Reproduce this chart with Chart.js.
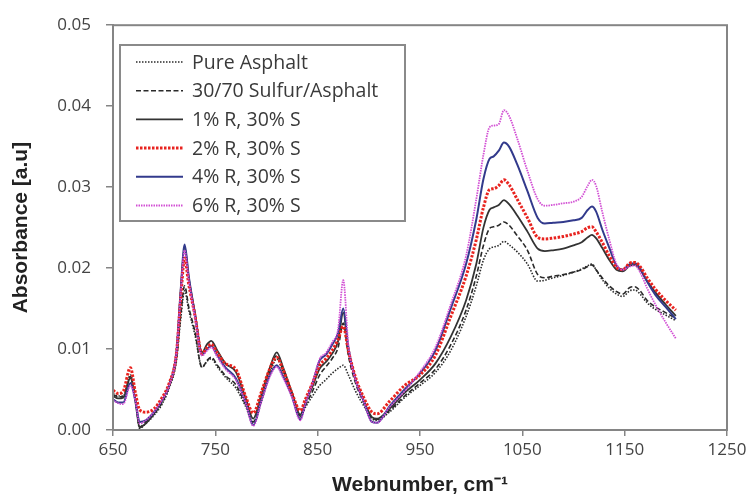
<!DOCTYPE html>
<html>
<head>
<meta charset="utf-8">
<script src="https://cdn.jsdelivr.net/npm/chart.js@4.4.1/dist/chart.umd.min.js"></script>
<style>
  html, body { margin: 0; padding: 0; background: #fff; }
  #wrap { width: 755px; height: 504px; }
</style>
</head>
<body>
<div id="wrap"><canvas id="chartFtir" width="755" height="504"></canvas></div>
<script>
// wavenumber sample positions (cm-1)
const wavenumbers = [
  650, 655, 660, 667, 672, 676, 682, 690, 698, 705,
  712, 716, 720, 724, 730, 737, 742, 746, 752, 760,
  770, 780, 787, 795, 803, 810, 816, 825, 833, 838,
  845, 852, 858, 864, 870, 875, 880, 887, 895, 903,
  908, 920, 935, 950, 965, 980, 995, 1005, 1012, 1018,
  1022, 1027, 1032, 1037, 1045, 1055, 1065, 1072, 1080, 1090,
  1100, 1108, 1114, 1118, 1122, 1128, 1135, 1142, 1148, 1155,
  1160, 1165, 1172, 1180, 1190, 1200,
];

const pureAsphalt = [
  0.0045, 0.0042, 0.0042, 0.0068, 0.0038, 0.0002, 0.0008, 0.0018, 0.0032, 0.0052,
  0.0085, 0.0135, 0.0172, 0.0148, 0.0118, 0.0078, 0.0085, 0.0088, 0.0078, 0.0065,
  0.0052, 0.0028, 0.0008, 0.0035, 0.0068, 0.0088, 0.0072, 0.0042, 0.0015, 0.0028,
  0.0042, 0.0055, 0.0062, 0.0070, 0.0076, 0.0080, 0.0068, 0.0048, 0.0030, 0.0014,
  0.0012, 0.0022, 0.0040, 0.0055, 0.0071, 0.0098, 0.0140, 0.0178, 0.0210, 0.0224,
  0.0226, 0.0228, 0.0233, 0.0229, 0.0220, 0.0205, 0.0184, 0.0185, 0.0188, 0.0191,
  0.0195, 0.0199, 0.0203, 0.0205, 0.0198, 0.0186, 0.0175, 0.0168, 0.0165, 0.0172,
  0.0173, 0.0168, 0.0157, 0.0149, 0.0142, 0.0135,
];

const sulfurAsphalt = [
  0.0044, 0.0041, 0.0041, 0.0066, 0.0036, 0.0004, 0.0010, 0.0020, 0.0034, 0.0054,
  0.0088, 0.0140, 0.0178, 0.0152, 0.0122, 0.0077, 0.0086, 0.0090, 0.0080, 0.0067,
  0.0056, 0.0030, 0.0010, 0.0038, 0.0072, 0.0092, 0.0075, 0.0044, 0.0017, 0.0030,
  0.0048, 0.0068, 0.0078, 0.0088, 0.0102, 0.0132, 0.0092, 0.0058, 0.0034, 0.0015,
  0.0013, 0.0024, 0.0042, 0.0058, 0.0075, 0.0105, 0.0148, 0.0190, 0.0228, 0.0249,
  0.0251, 0.0253, 0.0257, 0.0253, 0.0240, 0.0222, 0.0192, 0.0188, 0.0190, 0.0192,
  0.0195, 0.0198, 0.0202, 0.0204, 0.0198, 0.0188, 0.0178, 0.0171, 0.0168, 0.0176,
  0.0177, 0.0172, 0.0160, 0.0152, 0.0145, 0.0138,
];

const r1 = [
  0.0042, 0.0039, 0.0040, 0.0064, 0.0034, 0.0003, 0.0008, 0.0020, 0.0036, 0.0056,
  0.0095, 0.0168, 0.0226, 0.0188, 0.0145, 0.0096, 0.0106, 0.0110, 0.0098, 0.0082,
  0.0072, 0.0038, 0.0014, 0.0044, 0.0076, 0.0096, 0.0078, 0.0046, 0.0019, 0.0034,
  0.0054, 0.0076, 0.0084, 0.0094, 0.0110, 0.0145, 0.0098, 0.0062, 0.0036, 0.0016,
  0.0014, 0.0026, 0.0046, 0.0062, 0.0082, 0.0115, 0.0160, 0.0205, 0.0250, 0.0272,
  0.0275, 0.0278, 0.0284, 0.0279, 0.0265, 0.0245, 0.0224, 0.0221, 0.0222, 0.0224,
  0.0228, 0.0232, 0.0238, 0.0241, 0.0237, 0.0225, 0.0210, 0.0198, 0.0196, 0.0203,
  0.0204, 0.0198, 0.0184, 0.0170, 0.0155, 0.0141,
];

const r2 = [
  0.0049, 0.0045, 0.0048, 0.0077, 0.0045, 0.0025, 0.0022, 0.0026, 0.0040, 0.0058,
  0.0095, 0.0160, 0.0212, 0.0180, 0.0142, 0.0094, 0.0102, 0.0106, 0.0095, 0.0082,
  0.0075, 0.0040, 0.0021, 0.0047, 0.0075, 0.0090, 0.0075, 0.0045, 0.0024, 0.0038,
  0.0058, 0.0080, 0.0088, 0.0098, 0.0112, 0.0128, 0.0098, 0.0065, 0.0040, 0.0022,
  0.0020, 0.0035, 0.0055, 0.0068, 0.0092, 0.0140, 0.0190, 0.0235, 0.0275, 0.0297,
  0.0298, 0.0302, 0.0309, 0.0303, 0.0285, 0.0262, 0.0238, 0.0236, 0.0237, 0.0239,
  0.0242, 0.0245, 0.0250, 0.0251, 0.0245, 0.0232, 0.0215, 0.0201, 0.0198, 0.0206,
  0.0207, 0.0202, 0.0188, 0.0174, 0.0160, 0.0148,
];

const r4 = [
  0.0038, 0.0034, 0.0034, 0.0058, 0.0036, 0.0010, 0.0012, 0.0022, 0.0037, 0.0056,
  0.0096, 0.0170, 0.0229, 0.0190, 0.0144, 0.0093, 0.0100, 0.0104, 0.0092, 0.0077,
  0.0064, 0.0033, 0.0006, 0.0037, 0.0067, 0.0080, 0.0067, 0.0041, 0.0013, 0.0033,
  0.0058, 0.0086, 0.0093, 0.0105, 0.0120, 0.0150, 0.0102, 0.0062, 0.0036, 0.0010,
  0.0009, 0.0029, 0.0050, 0.0070, 0.0098, 0.0150, 0.0205, 0.0260, 0.0310, 0.0335,
  0.0338, 0.0345, 0.0355, 0.0350, 0.0328, 0.0295, 0.0262, 0.0255, 0.0256, 0.0257,
  0.0259, 0.0262, 0.0272, 0.0276, 0.0270, 0.0248, 0.0225, 0.0203, 0.0198, 0.0205,
  0.0206, 0.0200, 0.0183, 0.0167, 0.0152, 0.0137,
];

const r6 = [
  0.0037, 0.0033, 0.0032, 0.0055, 0.0035, 0.0008, 0.0012, 0.0022, 0.0037, 0.0055,
  0.0095, 0.0165, 0.0222, 0.0185, 0.0140, 0.0092, 0.0098, 0.0102, 0.0090, 0.0075,
  0.0062, 0.0032, 0.0005, 0.0035, 0.0065, 0.0078, 0.0065, 0.0040, 0.0012, 0.0032,
  0.0058, 0.0088, 0.0095, 0.0108, 0.0125, 0.0185, 0.0105, 0.0062, 0.0035, 0.0010,
  0.0009, 0.0028, 0.0048, 0.0072, 0.0102, 0.0155, 0.0215, 0.0285, 0.0340, 0.0374,
  0.0376, 0.0378, 0.0395, 0.0388, 0.0360, 0.0320, 0.0285, 0.0277, 0.0278, 0.0280,
  0.0282, 0.0288, 0.0302, 0.0309, 0.0302, 0.0270, 0.0235, 0.0205, 0.0198, 0.0202,
  0.0203, 0.0195, 0.0175, 0.0155, 0.0133, 0.0113,
];

const xTicks = [650, 750, 850, 950, 1050, 1150, 1250];
const yTicks = [0, 0.01, 0.02, 0.03, 0.04, 0.05];

const pts = (arr) => arr.map((v, i) => ({ x: wavenumbers[i], y: v }));

const tickFont = { size: 17, family: '"Open Sans", "Liberation Sans", sans-serif' };
const titleFont = { size: 21, weight: 'bold', family: '"Liberation Sans", Arial, sans-serif' };

// frame around the plot area
const framePlugin = {
  id: 'frame',
  afterDatasetsDraw(chart) {
    const { ctx, chartArea: a } = chart;
    ctx.save();
    ctx.strokeStyle = '#858585';
    ctx.lineWidth = 2;
    ctx.strokeRect(a.left, a.top, a.right - a.left, a.bottom - a.top);
    ctx.restore();
  },
};

// boxed legend inside the plot, like the excel one
const boxLegend = {
  id: 'boxLegend',
  afterDraw(chart) {
    const { ctx } = chart;
    const x0 = 120, y0 = 45, w = 285, h = 176;
    ctx.save();
    ctx.fillStyle = '#fff';
    ctx.fillRect(x0, y0, w, h);
    ctx.strokeStyle = '#8a8a8a';
    ctx.lineWidth = 2;
    ctx.strokeRect(x0, y0, w, h);
    ctx.font = '19.5px "Open Sans", "Liberation Sans", sans-serif';
    ctx.textBaseline = 'middle';
    chart.data.datasets.forEach((ds, i) => {
      const y = 62 + i * 28.7;
      ctx.beginPath();
      ctx.strokeStyle = ds.borderColor;
      ctx.lineWidth = ds.borderWidth;
      ctx.setLineDash(ds.borderDash || []);
      ctx.moveTo(136, y);
      ctx.lineTo(183, y);
      ctx.stroke();
      ctx.setLineDash([]);
      ctx.fillStyle = '#3a3a3a';
      ctx.fillText(ds.label, 192, y + 1);
    });
    ctx.restore();
  },
};

const line = (label, data, color, width, dash, order) => ({
  label, data: pts(data), borderColor: color, borderWidth: width, borderDash: dash,
  pointRadius: 0, fill: false, cubicInterpolationMode: 'monotone', order,
});

new Chart(document.getElementById('chartFtir'), {
  type: 'line',
  data: {
    datasets: [
      line('Pure Asphalt', pureAsphalt, '#2a2a2a', 1.6, [1.5, 1.5], 6),
      line('30/70 Sulfur/Asphalt', sulfurAsphalt, '#2a2a2a', 1.6, [5, 2.5], 5),
      line('1% R, 30% S', r1, '#333333', 1.8, [], 4),
      line('2% R, 30% S', r2, '#e8231f', 3, [2.5, 1.5], 2),
      line('4% R, 30% S', r4, '#323a8c', 2, [], 3),
      line('6% R, 30% S', r6, '#d24fd4', 1.8, [1.5, 1], 1),
    ],
  },
  options: {
    responsive: false,
    animation: false,
    layout: { padding: { top: 22, right: 28, left: 0, bottom: 0 } },
    plugins: { legend: { display: false }, tooltip: { enabled: false } },
    scales: {
      x: {
        type: 'linear', min: 650, max: 1250,
        afterBuildTicks: (s) => { s.ticks = xTicks.map(v => ({ value: v })); },
        afterFit: (s) => { s.height = 74; },
        grid: { drawOnChartArea: false, drawTicks: true, tickLength: 6, color: '#858585', lineWidth: 1.5 },
        border: { display: true, color: '#858585', width: 2 },
        ticks: { color: '#444', padding: 4, font: tickFont, maxRotation: 0, callback: (v) => String(v) },
        title: {
          display: true, text: 'Webnumber, cm⁻¹', color: '#222',
          font: titleFont,
          padding: { top: 0, bottom: 6 },
        },
      },
      y: {
        min: 0, max: 0.05,
        afterBuildTicks: (s) => { s.ticks = yTicks.map(v => ({ value: v })); },
        afterFit: (s) => { s.width = 113; },
        grid: { drawOnChartArea: false, drawTicks: true, tickLength: 7, color: '#858585', lineWidth: 1.5 },
        border: { display: true, color: '#858585', width: 2 },
        ticks: { color: '#444', padding: 15, font: tickFont, callback: (v) => v.toFixed(2) },
        title: {
          display: true, text: 'Absorbance [a.u]', color: '#222',
          font: titleFont,
          padding: { top: 9, bottom: 0 },
        },
      },
    },
  },
  plugins: [framePlugin, boxLegend],
});
</script>
</body>
</html>
